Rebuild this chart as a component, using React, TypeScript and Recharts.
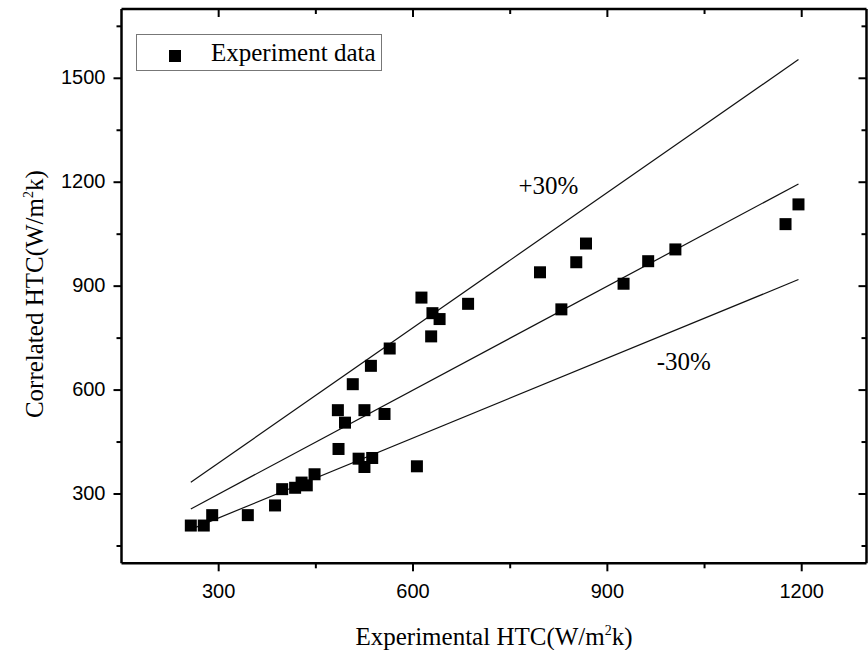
import React from "react";
import {
  ComposedChart,
  XAxis,
  YAxis,
  Scatter,
  Line,
  Legend,
  ReferenceDot,
} from "recharts";

// Experimental vs correlated heat transfer coefficients
const experimentalHTC = [
  257, 277, 290, 345, 387, 398, 418, 428, 436, 448, 485, 484, 495, 507, 525,
  516, 537, 525, 556, 535, 564, 606, 613, 630, 641, 628, 685, 796, 852, 867,
  829, 925, 963, 1005, 1175, 1195,
];
const correlatedHTC = [
  209, 209, 239, 239, 267, 314, 318, 333, 325, 357, 430, 542, 506, 617, 542,
  402, 404, 378, 531, 670, 720, 380, 867, 822, 805, 755, 849, 940, 969, 1023,
  833, 907, 972, 1006, 1079, 1136,
];

// Reference lines (end points)
const lineX = [257, 1195];
const equalY = [257, 1195];
const plus30Y = [334, 1554];
const minus30Y = [198, 919];

const xMajorTicks = [300, 600, 900, 1200];
const xMinorTicks = [450, 750, 1050];
const yMajorTicks = [300, 600, 900, 1200, 1500];
const yMinorTicks = [150, 450, 750, 1050, 1350, 1650];
const xDomain = [150, 1300];
const yDomain = [100, 1700];

const annotations = [
  { label: "+30%", x: 809, y: 1166 },
  { label: "-30%", x: 1018, y: 658 },
];

const scatterData = experimentalHTC.map((x, i) => ({ x, y: correlatedHTC[i] }));
const mk = (ys: number[]) => lineX.map((x, i) => ({ x, y: ys[i] }));
const equalData = mk(equalY);
const plus30Data = mk(plus30Y);
const minus30Data = mk(minus30Y);

const xTicks = [...xMajorTicks, ...xMinorTicks].sort((a, b) => a - b);
const yTicks = [...yMajorTicks, ...yMinorTicks].sort((a, b) => a - b);

const SANS = "'Liberation Sans', Arial, sans-serif";
const SERIF = "'Liberation Serif', 'Times New Roman', serif";
const AXIS_W = 2.5;
const MAJOR = 8;
const MINOR = 5;

const BottomTick = (p: any) => {
  const { x, y, payload } = p;
  const major = xMajorTicks.includes(payload.value);
  return (
    <g>
      <line x1={x} x2={x} y1={y} y2={y + (major ? MAJOR : MINOR)} stroke="#000" strokeWidth={2} />
      {major && (
        <text x={x} y={y + 35} textAnchor="middle" fontFamily={SANS} fontSize={20} fill="#000">
          {payload.value}
        </text>
      )}
    </g>
  );
};

const TopTick = (p: any) => {
  const { x, y, payload } = p;
  const major = xMajorTicks.includes(payload.value);
  return <line x1={x} x2={x} y1={y} y2={y + (major ? MAJOR : MINOR)} stroke="#000" strokeWidth={2} />;
};

const LeftTick = (p: any) => {
  const { x, y, payload } = p;
  const major = yMajorTicks.includes(payload.value);
  return (
    <g>
      <line x1={x - (major ? MAJOR : MINOR)} x2={x} y1={y} y2={y} stroke="#000" strokeWidth={2} />
      {major && (
        <text x={x - 16} y={y + 6} textAnchor="end" fontFamily={SANS} fontSize={20} fill="#000">
          {payload.value}
        </text>
      )}
    </g>
  );
};

const RightTick = (p: any) => {
  const { x, y, payload } = p;
  const major = yMajorTicks.includes(payload.value);
  return <line x1={x - (major ? MAJOR : MINOR)} x2={x} y1={y} y2={y} stroke="#000" strokeWidth={2} />;
};

const Square = (p: any) => {
  const { cx, cy } = p;
  if (cx == null || cy == null) return null;
  return <rect x={cx - 6} y={cy - 6} width={12} height={12} fill="#000" />;
};

const XTitle = (p: any) => {
  const vb = p.viewBox || {};
  const cx = vb.x + vb.width / 2;
  const y = vb.y + 82;
  return (
    <text x={cx} y={y} textAnchor="middle" fontFamily={SERIF} fontSize={25} fill="#000">
      Experimental HTC(W/m
      <tspan dy={-10} fontSize={14}>2</tspan>
      <tspan dy={10}>k)</tspan>
    </text>
  );
};

const YTitle = (p: any) => {
  const vb = p.viewBox || {};
  const x = vb.x + 43;
  const y = vb.y + vb.height / 2 + 8;
  return (
    <text
      x={x}
      y={y}
      transform={`rotate(-90, ${x}, ${y})`}
      textAnchor="middle"
      fontFamily={SERIF}
      fontSize={25}
      fill="#000"
    >
      Correlated HTC(W/m
      <tspan dy={-10} fontSize={14}>2</tspan>
      <tspan dy={10}>k)</tspan>
    </text>
  );
};

const AnnotationLabel = (text: string) => (p: any) => {
  const vb = p.viewBox || {};
  const x = vb.x + (vb.width || 0) / 2;
  const y = vb.y + (vb.height || 0) / 2;
  return (
    <text x={x} y={y} textAnchor="middle" fontFamily={SERIF} fontSize={25} fill="#000">
      {text}
    </text>
  );
};

const LegendBox = () => (
  <div
    style={{
      width: 246,
      height: 37,
      boxSizing: "border-box",
      border: "1px solid #777",
      background: "#fff",
      position: "relative",
      fontFamily: SERIF,
      fontSize: 25,
      color: "#000",
    }}
  >
    <div
      style={{ position: "absolute", left: 32, top: 15, width: 12, height: 12, background: "#000" }}
    />
    <div style={{ position: "absolute", left: 74, top: 1, lineHeight: "34px", whiteSpace: "nowrap" }}>
      Experiment data
    </div>
  </div>
);

export default function App() {
  return (
    <div style={{ position: "absolute", left: 0, top: 0, width: 868, height: 650, background: "#fff" }}>
      <ComposedChart
        width={868}
        height={650}
        margin={{ top: 8, right: 0.5, left: 0, bottom: 0 }}
      >
        <XAxis
          xAxisId={0}
          dataKey="x"
          type="number"
          domain={xDomain}
          ticks={xTicks}
          interval={0}
          allowDataOverflow
          height={86.7}
          tickSize={0}
          tickMargin={0}
          tickLine={false}
          axisLine={{ stroke: "#000", strokeWidth: AXIS_W }}
          tick={<BottomTick />}
          label={<XTitle />}
        />
        <XAxis
          xAxisId="top"
          orientation="top"
          dataKey="x"
          type="number"
          domain={xDomain}
          ticks={xTicks}
          interval={0}
          allowDataOverflow
          height={1}
          tickSize={0}
          tickMargin={0}
          tickLine={false}
          axisLine={{ stroke: "#000", strokeWidth: AXIS_W }}
          tick={<TopTick />}
        />
        <YAxis
          yAxisId={0}
          dataKey="y"
          type="number"
          domain={yDomain}
          ticks={yTicks}
          interval={0}
          allowDataOverflow
          width={121.5}
          tickSize={0}
          tickMargin={0}
          tickLine={false}
          axisLine={{ stroke: "#000", strokeWidth: AXIS_W }}
          tick={<LeftTick />}
          label={<YTitle />}
        />
        <YAxis
          yAxisId="right"
          orientation="right"
          dataKey="y"
          type="number"
          domain={yDomain}
          ticks={yTicks}
          interval={0}
          allowDataOverflow
          width={1}
          tickSize={0}
          tickMargin={0}
          tickLine={false}
          axisLine={{ stroke: "#000", strokeWidth: AXIS_W }}
          tick={<RightTick />}
        />
        <Line
          data={plus30Data}
          dataKey="y"
          stroke="#111"
          strokeWidth={1.2}
          dot={false}
          activeDot={false}
          isAnimationActive={false}
          legendType="none"
        />
        <Line
          data={equalData}
          dataKey="y"
          xAxisId="top"
          yAxisId="right"
          stroke="#111"
          strokeWidth={1.2}
          dot={false}
          activeDot={false}
          isAnimationActive={false}
          legendType="none"
        />
        <Line
          data={minus30Data}
          dataKey="y"
          stroke="#111"
          strokeWidth={1.2}
          dot={false}
          activeDot={false}
          isAnimationActive={false}
          legendType="none"
        />
        <Scatter
          name="Experiment data"
          data={scatterData}
          dataKey="y"
          fill="#000"
          shape={<Square />}
          isAnimationActive={false}
        />
        {annotations.map((a) => (
          <ReferenceDot
            key={a.label}
            x={a.x}
            y={a.y}
            r={0}
            fill="none"
            stroke="none"
            label={AnnotationLabel(a.label)}
          />
        ))}
        <Legend
          layout="horizontal"
          verticalAlign="middle"
          align="center"
          content={<LegendBox />}
          wrapperStyle={{ position: "absolute", left: 136, top: 34, width: 246, height: 37 }}
        />
      </ComposedChart>
    </div>
  );
}
